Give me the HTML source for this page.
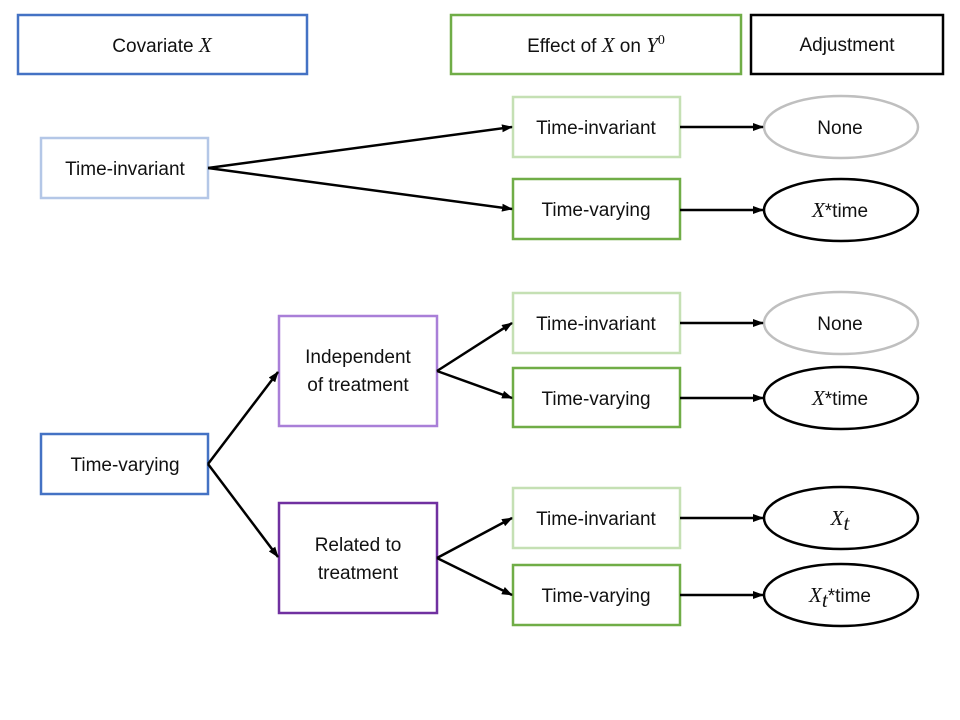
<!DOCTYPE html>
<html><head><meta charset="utf-8"><style>
html,body{margin:0;padding:0;background:#fff;width:960px;height:720px;overflow:hidden}
text{font-family:"Liberation Sans",sans-serif;font-size:19px;fill:#111}
.m{font-family:"Liberation Serif",serif;font-style:italic;font-size:21px}
</style></head><body>
<svg width="960" height="720" viewBox="0 0 960 720" xmlns="http://www.w3.org/2000/svg">
<defs><marker id="a" markerWidth="11" markerHeight="8" refX="10" refY="4" orient="auto" markerUnits="userSpaceOnUse"><path d="M0,0 L11,4 L0,8 z" fill="#000"/></marker></defs>
<g fill="#fff" stroke-width="2.5">
<rect x="18" y="15" width="289" height="59" stroke="#4472C4"/>
<rect x="451" y="15" width="290" height="59" stroke="#70AD47"/>
<rect x="751" y="15" width="192" height="59" stroke="#000"/>
<rect x="41" y="138" width="167" height="60" stroke="#B4C7E7"/>
<rect x="513" y="97" width="167" height="60" stroke="#C5E0B4"/>
<rect x="513" y="179" width="167" height="60" stroke="#70AD47"/>
<rect x="279" y="316" width="158" height="110" stroke="#A97FD8"/>
<rect x="279" y="503" width="158" height="110" stroke="#7030A0"/>
<rect x="41" y="434" width="167" height="60" stroke="#4472C4"/>
<rect x="513" y="293" width="167" height="60" stroke="#C5E0B4"/>
<rect x="513" y="368" width="167" height="59" stroke="#70AD47"/>
<rect x="513" y="488" width="167" height="60" stroke="#C5E0B4"/>
<rect x="513" y="565" width="167" height="60" stroke="#70AD47"/>
<ellipse cx="841" cy="127" rx="77" ry="31" stroke="#BFBFBF"/>
<ellipse cx="841" cy="210" rx="77" ry="31" stroke="#000"/>
<ellipse cx="841" cy="323" rx="77" ry="31" stroke="#BFBFBF"/>
<ellipse cx="841" cy="398" rx="77" ry="31" stroke="#000"/>
<ellipse cx="841" cy="518" rx="77" ry="31" stroke="#000"/>
<ellipse cx="841" cy="595" rx="77" ry="31" stroke="#000"/>
</g>
<g stroke="#000" stroke-width="2.5" marker-end="url(#a)">
<line x1="208" y1="168" x2="512" y2="127"/>
<line x1="208" y1="168" x2="512" y2="209"/>
<line x1="680" y1="127" x2="763" y2="127"/>
<line x1="680" y1="210" x2="763" y2="210"/>
<line x1="680" y1="323" x2="763" y2="323"/>
<line x1="680" y1="398" x2="763" y2="398"/>
<line x1="680" y1="518" x2="763" y2="518"/>
<line x1="680" y1="595" x2="763" y2="595"/>
<line x1="208" y1="464" x2="278" y2="372"/>
<line x1="208" y1="464" x2="278" y2="557"/>
<line x1="437" y1="371" x2="512" y2="323"/>
<line x1="437" y1="371" x2="512" y2="398"/>
<line x1="437" y1="558" x2="512" y2="518"/>
<line x1="437" y1="558" x2="512" y2="595"/>
</g>
<g text-anchor="middle">
<text x="162" y="52">Covariate <tspan class="m">X</tspan></text>
<text x="596" y="52">Effect of <tspan class="m">X</tspan> on <tspan class="m">Y</tspan><tspan style="font-family:'Liberation Serif',serif;font-style:normal;font-size:14px" dy="-8">0</tspan></text>
<text x="847" y="51">Adjustment</text>
<text x="125" y="175">Time-invariant</text>
<text x="596" y="134">Time-invariant</text>
<text x="596" y="216">Time-varying</text>
<text x="840" y="134">None</text>
<text x="840" y="217"><tspan class="m">X</tspan>*time</text>
<text x="358" y="363">Independent</text>
<text x="358" y="391">of treatment</text>
<text x="358" y="551">Related to</text>
<text x="358" y="579">treatment</text>
<text x="125" y="471">Time-varying</text>
<text x="596" y="330">Time-invariant</text>
<text x="596" y="405">Time-varying</text>
<text x="840" y="330">None</text>
<text x="840" y="405"><tspan class="m">X</tspan>*time</text>
<text x="596" y="525">Time-invariant</text>
<text x="596" y="602">Time-varying</text>
<text x="840" y="525"><tspan class="m">X</tspan><tspan class="m" font-size="15" dy="5">t</tspan></text>
<text x="840" y="602"><tspan class="m">X</tspan><tspan class="m" font-size="15" dy="5">t</tspan><tspan dy="-5">*time</tspan></text>
</g>
</svg>
</body></html>
